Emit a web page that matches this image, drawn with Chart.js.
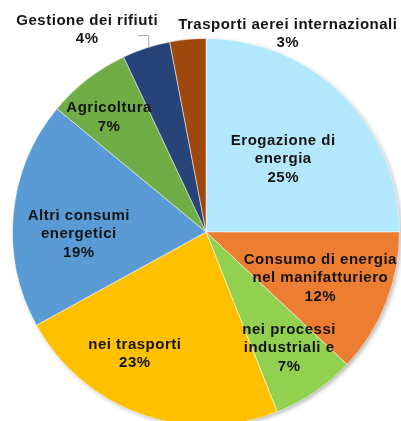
<!DOCTYPE html>
<html>
<head>
<meta charset="utf-8">
<script src="https://cdn.jsdelivr.net/npm/chart.js@4"></script>
<style>
  html, body { margin: 0; padding: 0; background: #fff; overflow: hidden; }
  #wrap { position: absolute; left: 0; top: 0; width: 401px; height: 426px; }
</style>
</head>
<body>
<div id="wrap"><canvas id="torta"></canvas></div>
<script>
// dati
var categorie = [
  ['Erogazione di', 'energia'],
  ['Consumo di energia', 'nel manifatturiero'],
  ['nei processi', 'industriali e'],
  ['nei trasporti'],
  ['Altri consumi', 'energetici'],
  ['Agricoltura'],
  ['Gestione dei rifiuti'],
  ['Trasporti aerei internazionali']
];
var valori = [25, 12, 7, 23, 19, 7, 4, 3];
var colori = ['#B3E8FC', '#ED7D31', '#92D050', '#FFC000', '#5B9BD5', '#70AD47', '#264478', '#9E480E'];

// posizione etichette: [fattore raggio, dx, dy, fuori]
var posEtichette = [
  [0.55, 2, 2.5, false],
  [0.63, 1, 1, false],
  [0.70, 7, 4, false],
  [0.72, -24, -9, false],
  [0.66, 0, 14, false],
  [0.80, -2, 7.5, false],
  [1.0, -59, -18, true],
  [1.0, 100, -5.5, true]
];

// ombra sotto la torta
var ombra = {
  id: 'ombra',
  beforeDatasetsDraw: function(chart) {
    var arc = chart.getDatasetMeta(0).data[0];
    var ctx = chart.ctx;
    ctx.save();
    ctx.shadowColor = 'rgba(0,0,0,0.35)';
    ctx.shadowBlur = 5;
    ctx.shadowOffsetX = 2;
    ctx.shadowOffsetY = 2;
    ctx.fillStyle = '#ffffff';
    ctx.beginPath();
    ctx.arc(arc.x, arc.y, arc.outerRadius - 1, 0, Math.PI * 2);
    ctx.fill();
    ctx.restore();
  }
};

var etichette = {
  id: 'etichette',
  afterDatasetsDraw: function(chart) {
    var ctx = chart.ctx;
    var tot = valori.reduce(function(a, b) { return a + b; }, 0);
    ctx.save();
    ctx.font = 'bold 15px "Liberation Sans", Arial, sans-serif';
    ctx.letterSpacing = '0.5px';
    ctx.fillStyle = '#141414';
    ctx.textAlign = 'center';
    ctx.textBaseline = 'middle';
    chart.getDatasetMeta(0).data.forEach(function(arc, i) {
      var p = posEtichette[i];
      var mid = (arc.startAngle + arc.endAngle) / 2;
      var r = arc.outerRadius * p[0];
      var ex = arc.x + Math.cos(mid) * r;
      var ey = arc.y + Math.sin(mid) * r;
      var lx = ex + p[1];
      var ly = ey + p[2];
      var righe = categorie[i].concat([Math.round(valori[i] / tot * 100) + '%']);
      var h = 18.5;
      var y0 = ly - (righe.length - 1) * h / 2;
      righe.forEach(function(t, k) {
        ctx.fillText(t, lx, y0 + k * h);
      });
      if (p[3] && i === 6) {
        // linea guida
        ctx.strokeStyle = '#a6a6a6';
        ctx.lineWidth = 1;
        ctx.beginPath();
        ctx.moveTo(ex - 8, ey - 12.5);
        ctx.lineTo(ex + 2.5, ey - 12.5);
        ctx.lineTo(ex + 2.5, ey - 1);
        ctx.stroke();
      }
    });
    ctx.restore();
  }
};

new Chart(document.getElementById('torta'), {
  type: 'pie',
  data: {
    labels: categorie.map(function(c) { return c.join(' '); }),
    datasets: [{
      data: valori,
      backgroundColor: colori,
      borderColor: 'rgba(255,255,255,0.5)',
      borderWidth: 1
    }]
  },
  options: {
    responsive: true,
    maintainAspectRatio: false,
    animation: false,
    layout: { padding: { left: 12, right: 1, top: 38, bottom: 0 } },
    plugins: {
      legend: { display: false },
      tooltip: { enabled: false }
    }
  },
  plugins: [ombra, etichette]
});
</script>
</body>
</html>
